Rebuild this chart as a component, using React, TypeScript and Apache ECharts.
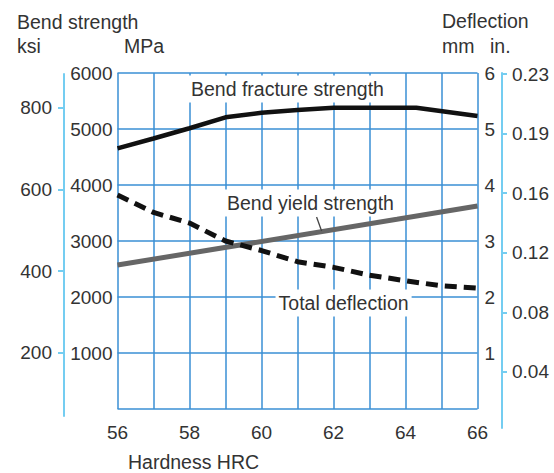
import React, { useEffect, useRef } from "react";
import * as echarts from "echarts";

// ---- data ----
const hrcTicks = [56, 58, 60, 62, 64, 66];
const fractureHrc = [56, 57, 58, 59, 60, 61, 62, 64.3, 66];
const fractureMPa = [4655, 4830, 5013, 5209, 5291, 5339, 5380, 5380, 5232];
const yieldHrc = [56, 66];
const yieldMPa = [2570, 3625];
const deflHrc = [56, 57, 58, 59, 60, 61, 62, 63, 64, 65, 66];
const deflMm = [3.82, 3.51, 3.32, 3.0, 2.83, 2.63, 2.53, 2.39, 2.29, 2.2, 2.16];
const ksiTicks = [200, 400, 600, 800];
const inTickPos = [1, 2, 3, 4, 5, 6];
const inTickLabels = ["0.04", "0.08", "0.12", "0.16", "0.19", "0.23"];

const annoText = ["Bend fracture strength", "Bend yield strength", "Total deflection"];
const annoHrc = [60.72, 61.36, 62.28];
const annoMPa = [5714, 3679, 1893];
const leaderHrc = [61.53, 61.67];
const leaderMPa = [3429, 3179];

const FONT = "'Liberation Sans', Arial, Helvetica, sans-serif";
const TXT = "#333333";
const GRID = "#3a8fd4";
const CYAN = "#74cdf1";

export default function App() {
  const ref = useRef<HTMLDivElement>(null);
  useEffect(() => {
    if (!ref.current) return;
    const chart = echarts.init(ref.current, null, { renderer: "svg" });
    const lbl = { fontSize: 19, color: TXT, fontFamily: FONT };
    const option: any = {
      animation: false,
      textStyle: { fontFamily: FONT },
      grid: [
        { left: 117.5, top: 73, width: 360, height: 336 },
        { left: 64, top: 74, width: 10, height: 342 },
        { left: 492, top: 73, width: 10, height: 355 },
      ],
      xAxis: [
        {
          gridIndex: 0,
          type: "value",
          min: 56,
          max: 66,
          interval: 1,
          axisLine: { show: false },
          axisTick: { show: false },
          splitLine: { show: true, lineStyle: { color: GRID, width: 1.5 } },
          axisLabel: { ...lbl, customValues: hrcTicks, margin: 14 },
        },
        { gridIndex: 1, type: "value", show: false, splitLine: { show: false } },
        { gridIndex: 2, type: "value", show: false, splitLine: { show: false } },
      ],
      yAxis: [
        {
          gridIndex: 0,
          type: "value",
          min: 0,
          max: 6000,
          interval: 1000,
          position: "left",
          axisLine: { show: false, onZero: false },
          axisTick: { show: false },
          splitLine: { show: true, lineStyle: { color: GRID, width: 1.5 } },
          axisLabel: {
            ...lbl,
            margin: 5,
            padding: [12, 0, 0, 0],
            formatter: (v: number) => (v === 0 ? "" : String(v)),
          },
        },
        {
          gridIndex: 0,
          type: "value",
          min: 0,
          max: 6,
          interval: 1,
          position: "right",
          axisLine: { show: false, onZero: false },
          axisTick: { show: false },
          splitLine: { show: false },
          axisLabel: {
            ...lbl,
            margin: 7,
            padding: [12, 0, 0, 0],
            formatter: (v: number) => (v === 0 ? "" : String(v)),
          },
        },
        {
          gridIndex: 1,
          type: "value",
          min: 44.6,
          max: 883.3,
          position: "left",
          axisLine: { show: true, onZero: false, lineStyle: { color: CYAN, width: 2 } },
          axisTick: { show: true, length: 6, customValues: ksiTicks, lineStyle: { color: CYAN, width: 2 } },
          splitLine: { show: false },
          axisLabel: { ...lbl, customValues: ksiTicks, margin: 12, padding: [4, 0, 0, 0] },
        },
        {
          gridIndex: 2,
          type: "value",
          min: 0.06,
          max: 6.017,
          position: "right",
          axisLine: { show: true, onZero: false, lineStyle: { color: CYAN, width: 2 } },
          axisTick: { show: true, length: 5, customValues: inTickPos, lineStyle: { color: CYAN, width: 2 } },
          splitLine: { show: false },
          axisLabel: {
            ...lbl,
            customValues: inTickPos,
            margin: 10,
            formatter: (v: number) => inTickLabels[Math.round(v) - 1],
          },
        },
      ],
      series: [
        {
          type: "line",
          xAxisIndex: 0,
          yAxisIndex: 0,
          data: fractureHrc.map((x, i) => [x, fractureMPa[i]]),
          symbol: "none",
          lineStyle: { color: "#111111", width: 4.5 },
          z: 5,
        },
        {
          type: "line",
          xAxisIndex: 0,
          yAxisIndex: 0,
          data: yieldHrc.map((x, i) => [x, yieldMPa[i]]),
          symbol: "none",
          lineStyle: { color: "#666666", width: 5 },
          z: 4,
        },
        {
          type: "line",
          xAxisIndex: 0,
          yAxisIndex: 1,
          data: deflHrc.map((x, i) => [x, deflMm[i]]),
          symbol: "none",
          lineStyle: { color: "#111111", width: 5, type: [12, 7] },
          z: 5,
        },
      ],
    };
    chart.setOption(option);

    const px = (x: number, y: number) =>
      chart.convertToPixel({ xAxisIndex: 0, yAxisIndex: 0 }, [x, y]) as number[];
    const annoGraphics = annoText.map((t, i) => {
      const p = px(annoHrc[i], annoMPa[i]);
      return {
        type: "text",
        x: p[0],
        y: p[1],
        z: 100,
        style: {
          text: t,
          fontSize: 19.5,
          fontFamily: FONT,
          fill: TXT,
          align: "center",
          verticalAlign: "middle",
          backgroundColor: "#ffffff",
          padding: [4, 3, 3, 3],
        },
      };
    });
    const l0 = px(leaderHrc[0], leaderMPa[0]);
    const l1 = px(leaderHrc[1], leaderMPa[1]);
    const titleStyle = (text: string) => ({
      text,
      fontSize: 19.5,
      fontFamily: FONT,
      fill: TXT,
      verticalAlign: "middle",
    });
    chart.setOption({
      graphic: [
        ...annoGraphics,
        {
          type: "line",
          z: 99,
          shape: { x1: l0[0], y1: l0[1], x2: l1[0], y2: l1[1] },
          style: { stroke: "#444444", lineWidth: 1.3 },
        },
        { type: "text", x: 17, y: 21.5, style: titleStyle("Bend strength") },
        { type: "text", x: 17, y: 46, style: titleStyle("ksi") },
        { type: "text", x: 124, y: 46, style: titleStyle("MPa") },
        { type: "text", x: 442, y: 20.5, style: titleStyle("Deflection") },
        { type: "text", x: 442, y: 46, style: titleStyle("mm") },
        { type: "text", x: 490, y: 46, style: titleStyle("in.") },
        { type: "text", x: 128, y: 461.5, style: titleStyle("Hardness HRC") },
      ],
    });
    return () => chart.dispose();
  }, []);
  return (
    <div
      ref={ref}
      style={{ position: "fixed", left: 0, top: 0, width: 554, height: 473, background: "#ffffff" }}
    />
  );
}
